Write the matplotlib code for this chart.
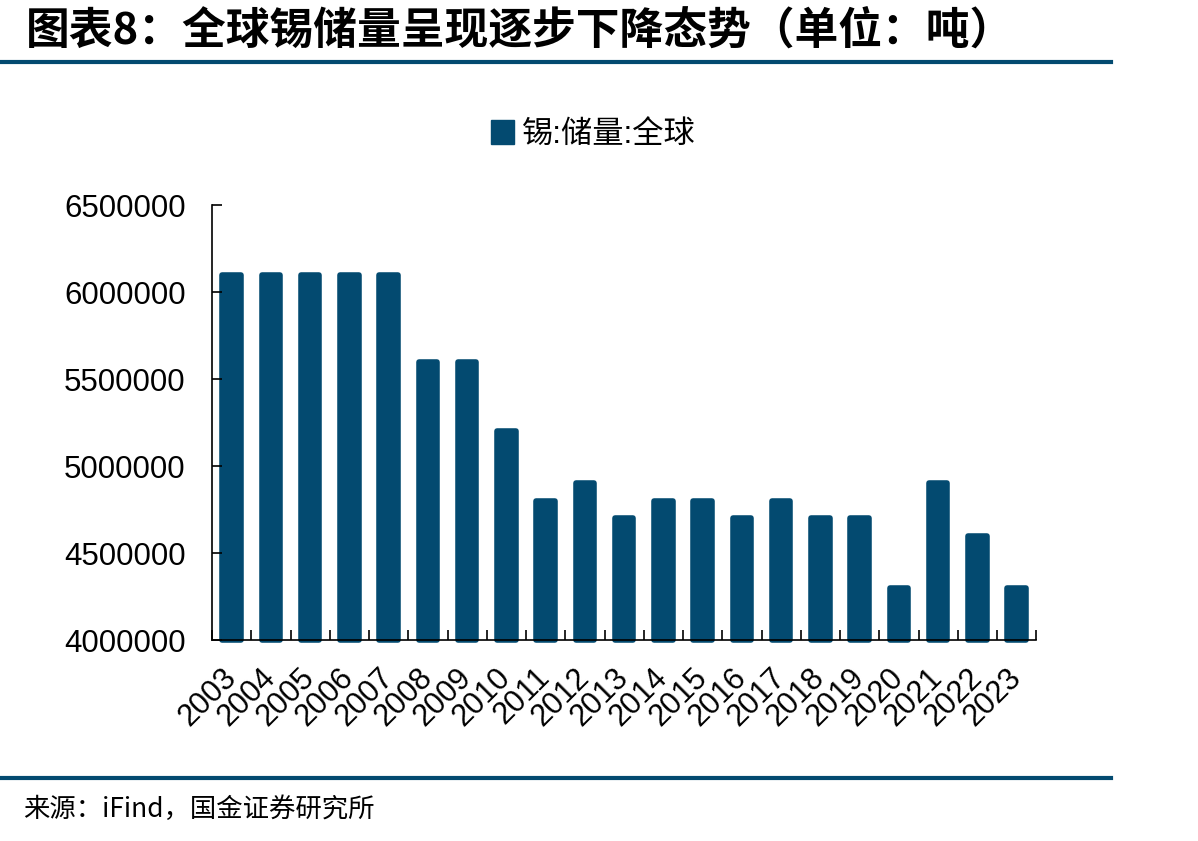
import numpy as np
import matplotlib
matplotlib.use('Agg')
import matplotlib.pyplot as plt
import matplotlib.patches as patches
from matplotlib.lines import Line2D

plt.rcParams['font.family'] = ['Liberation Sans', 'Noto Sans CJK SC', 'DejaVu Sans']

years = [str(y) for y in range(2003, 2024)]
reserves = [6100000, 6100000, 6100000, 6100000, 6100000, 5600000, 5600000,
            5200000, 4800000, 4900000, 4700000, 4800000, 4800000, 4700000,
            4800000, 4700000, 4700000, 4300000, 4900000, 4600000, 4300000]
yticks = [4000000, 4500000, 5000000, 5500000, 6000000, 6500000]

title = '图表8：全球锡储量呈现逐步下降态势（单位：吨）'
series_name = '锡:储量:全球'
source = '来源：iFind，国金证券研究所'

blue = '#034a70'

fig = plt.figure(figsize=(11.98, 8.41), dpi=100)
ax = fig.add_axes([0.177, 0.239, 0.688, 0.517])

x = np.arange(len(years))
ax.bar(x, np.array(reserves) - 4000000, bottom=4000000, width=0.47,
       color=blue, edgecolor=blue, linewidth=4, joinstyle='round',
       clip_on=False)

ax.set_xlim(-0.5, len(years) - 0.5)
ax.set_ylim(4000000, 6500000)
ax.set_yticks(yticks)
ax.set_yticklabels([str(v) for v in yticks], fontsize=22.5)
ax.tick_params(axis='y', direction='in', length=7, width=1.2, pad=19)

ax.set_xticks(x)
ax.set_xticklabels(years, fontsize=22, rotation=45, ha='right',
                   rotation_mode='anchor', va='center')
ax.set_xticks(np.arange(-0.5, len(years)), minor=True)
ax.tick_params(axis='x', which='major', length=0, pad=24)
ax.tick_params(axis='x', which='minor', direction='in', length=7, width=1.2)

for s in ['top', 'right']:
    ax.spines[s].set_visible(False)
for s in ['left', 'bottom']:
    ax.spines[s].set_linewidth(1.2)

handle = patches.Patch(facecolor=blue, edgecolor=blue)
fig.legend([handle], [series_name], loc='center', bbox_to_anchor=(0.495, 0.84),
           frameon=False, fontsize=22.5, handlelength=0.75, handleheight=0.8,
           handletextpad=0.25)

fig.text(0.022, 0.963, title, fontsize=31.5, fontweight='bold', va='center',
         family=['Noto Sans CJK SC'])
fig.add_artist(Line2D([0, 0.927], [0.926, 0.926], color=blue, linewidth=3,
                      transform=fig.transFigure))
fig.add_artist(Line2D([0, 0.927], [0.075, 0.075], color=blue, linewidth=3,
                      transform=fig.transFigure))
fig.text(0.019, 0.038, source, fontsize=19, va='center',
         family=['Noto Sans CJK SC', 'DejaVu Sans'])

fig.savefig('out.png', dpi=100)
